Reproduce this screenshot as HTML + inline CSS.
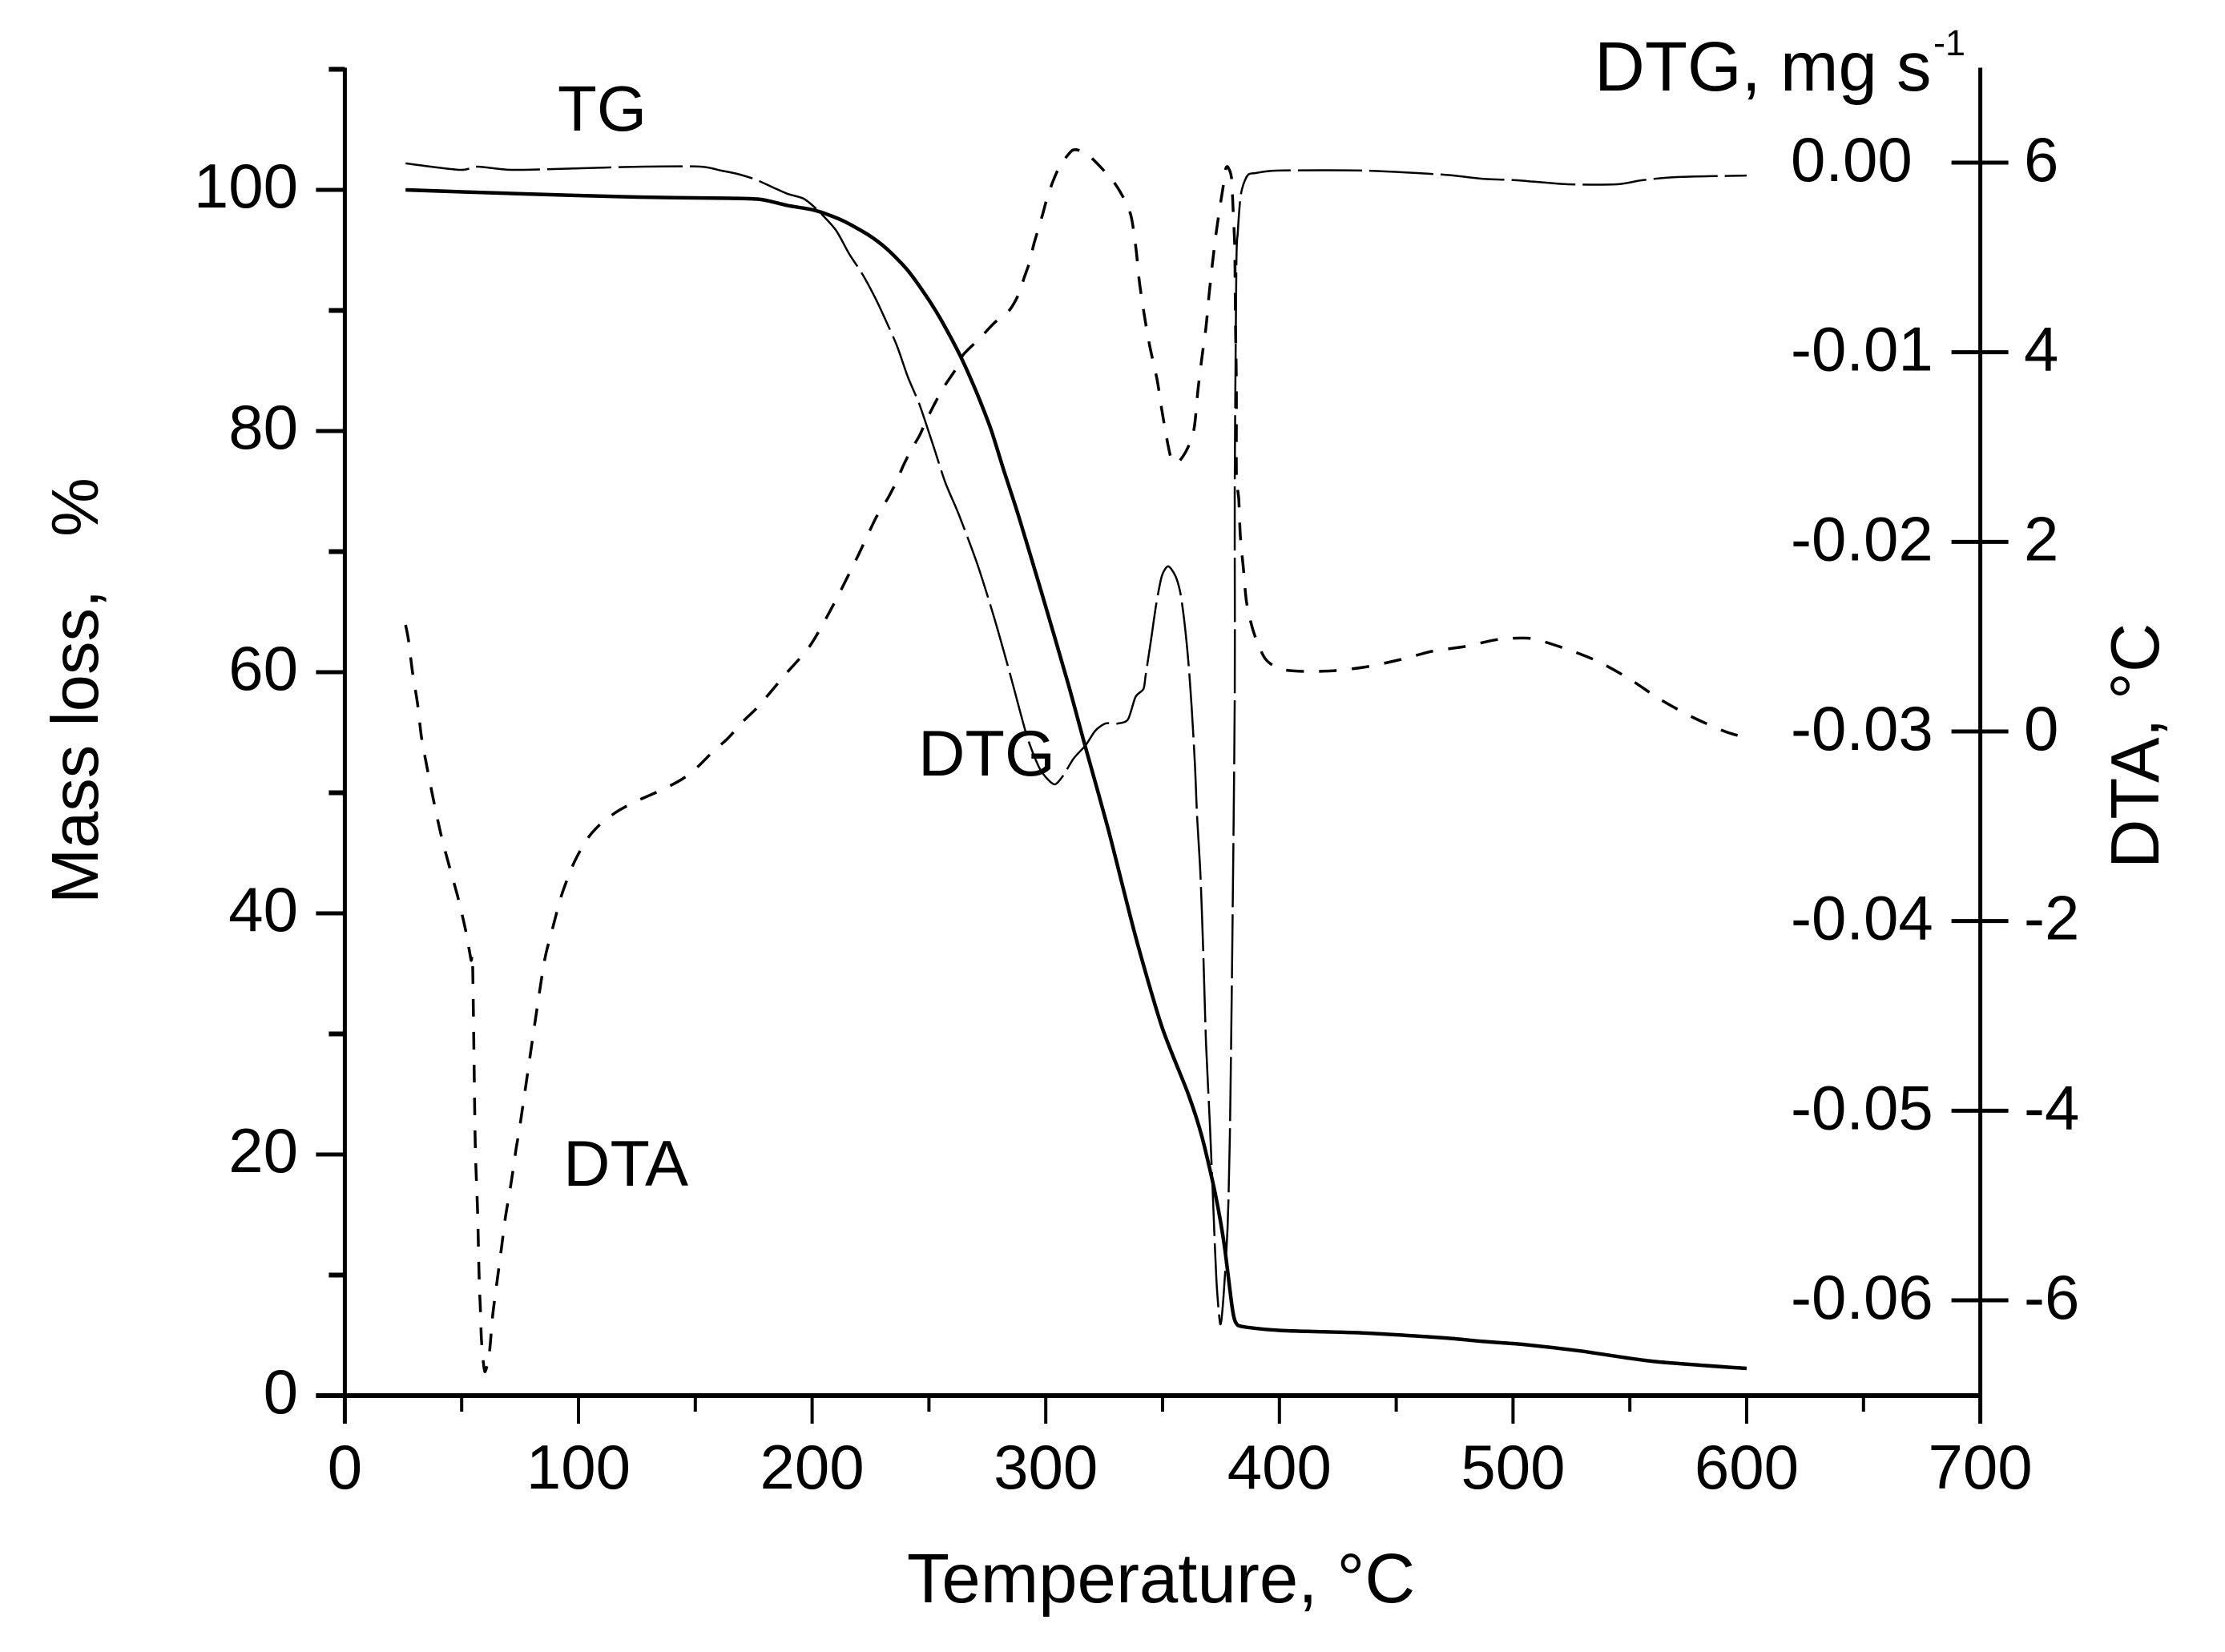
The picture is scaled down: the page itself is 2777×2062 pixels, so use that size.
<!DOCTYPE html>
<html lang="en">
<head>
<meta charset="utf-8">
<title>TG, DTG and DTA curves</title>
<style>
html,body{margin:0;padding:0;background:#fff;width:2777px;height:2062px;overflow:hidden}
svg{display:block}
text{font-family:"Liberation Sans",sans-serif;fill:#000}
</style>
</head>
<body>
<svg id="chart" xmlns="http://www.w3.org/2000/svg" width="2777" height="2062" viewBox="0 0 2777 2062">
  <rect x="0" y="0" width="2777" height="2062" fill="#fff"/>
  <g id="axes"></g>
  <g id="series"></g>
  <text x="1449" y="2000" font-size="87" text-anchor="middle">Temperature, °C</text>
  <text transform="translate(122,1128) rotate(-90)" font-size="83">Mass loss,</text>
  <text transform="translate(122,670) rotate(-90)" font-size="83">%</text>
  <text transform="translate(2694,1084) rotate(-90)" font-size="85">DTA, °C</text>
  <text x="1990" y="113" font-size="87">DTG, mg s</text>
  <text x="2413" y="69" font-size="45">-1</text>
  <text x="696" y="163" font-size="80">TG</text>
  <text x="1146" y="968" font-size="81">DTG</text>
  <text x="703" y="1480" font-size="81">DTA</text>
</svg>
<script>
const xMajorTicks = [0, 100, 200, 300, 400, 500, 600, 700];
const xMinorTicks = [50, 150, 250, 350, 450, 550, 650];
const massMajorTicks = [0, 20, 40, 60, 80, 100];
const massMinorTicks = [10, 30, 50, 70, 90, 110];
const dtgTicks = ['0.00', '-0.01', '-0.02', '-0.03', '-0.04', '-0.05', '-0.06'];
const dtaTicks = ['6', '4', '2', '0', '-2', '-4', '-6'];

const tgTemps = [26,71.2,125.7,165.2,178.2,189.6,201.2,212.5,223.8,232,241,250.2,257,264,270.8,276.6,282.1,288.6,298.2,309.5,316.4,326.7,338.4,349.7,361,366.8,372.6,376.4,379.8,381.5,385,401,435.4,469.7,486.8,504,529,559.6,600];
const tgMass = [100,99.7,99.4,99.3,99.2,98.7,98.3,97.5,96.3,95.1,93.3,90.8,88.6,86,83,80.1,76.7,72.8,66.6,59.1,54.2,47,38.1,30.6,25,21.5,16.7,12.5,7.3,6,5.7,5.4,5.2,4.8,4.5,4.25,3.7,2.85,2.25];

const dtgTemps = [26,49.2,56.8,71.2,99.7,127.8,152.1,161,167.9,175.8,182.6,189.6,196.4,202.2,210.1,215.9,221.7,227.2,232,236.5,240.9,245.7,249.2,252.6,257.1,262.9,270.8,277.6,284.5,289,292.4,297.2,300.6,304,307.5,311.9,317.1,321.2,325.6,330.8,335.2,338.4,341.8,342.8,345.2,347.3,349.7,352.4,355.5,357.6,359.3,361,362.4,363.8,364.8,366.2,367.5,368.6,370.3,371.6,373,374.7,376.1,377.8,378.8,379.8,380.9,380.9,381.6,382.2,383.3,384.6,386.7,389.8,399.4,435.4,469.7,486.8,501.6,523.2,544.5,555.1,570.2,600];
const dtgRate = [-0.00004,-0.00038,-0.00021,-0.00038,-0.0003,-0.00021,-0.00021,-0.00042,-0.00059,-0.00089,-0.00127,-0.00165,-0.0019,-0.00249,-0.00355,-0.00482,-0.00592,-0.00718,-0.00845,-0.00972,-0.01128,-0.01268,-0.01394,-0.01521,-0.0169,-0.01859,-0.02121,-0.02387,-0.02687,-0.02894,-0.03042,-0.0319,-0.03249,-0.03279,-0.03232,-0.03143,-0.03072,-0.02996,-0.02958,-0.02958,-0.02936,-0.02818,-0.02776,-0.027,-0.02505,-0.02328,-0.0218,-0.02129,-0.0218,-0.02269,-0.02417,-0.02628,-0.02865,-0.0316,-0.03456,-0.03752,-0.04195,-0.04643,-0.05087,-0.05471,-0.05885,-0.06126,-0.05978,-0.05619,-0.05129,-0.0417,-0.02797,-0.01677,-0.00537,-0.00368,-0.00186,-0.00114,-0.00063,-0.00055,-0.00042,-0.00042,-0.00063,-0.00085,-0.00093,-0.00114,-0.00114,-0.00093,-0.00076,-0.00068];

const dtaTemps = [26,27.3,29,31.1,32.8,35.2,37.9,41,44.4,48.2,51.6,54,54.7,55.8,56.8,57.5,58,58.5,59.9,61.9,63.3,65,67.1,68.8,71.2,73.3,75,78.7,82.2,85.6,89,92.8,97.9,103.8,109.6,116.5,124,130.2,137,144.6,151.1,157.6,163.8,170.6,177.2,188.5,199.1,209.1,219.4,227.2,232.4,235.8,238.9,242.3,246.1,248.5,252.6,256.4,261.2,264.6,271.5,278,284.5,288.6,290.7,293.1,294.8,296.8,298.9,300.6,303,306.1,311.2,314.7,318.1,324.6,329.8,334.2,336.7,338.7,340.1,342.1,344.5,347.6,349.7,352.1,353.8,356.2,359.3,362.4,363.8,365.1,366.8,368.6,369.9,371.3,373,375.1,376.1,377.1,378.1,379.5,380.2,380.9,381.2,381.6,381.6,382.6,383.3,384.6,386,389.1,393.9,400.4,411,424.1,438.1,452.2,465.2,479.3,494,507.7,521.8,535.9,549.6,563,576.7,590.7,600];
const dtaDelta = [1.124,0.955,0.617,0.296,-0.059,-0.38,-0.718,-1.073,-1.394,-1.732,-2.087,-2.409,-2.459,-4.327,-5.045,-5.789,-6.076,-6.431,-6.752,-6.541,-6.152,-5.831,-5.434,-5.113,-4.758,-4.403,-4.149,-3.524,-2.932,-2.4,-2.07,-1.724,-1.394,-1.132,-0.972,-0.845,-0.744,-0.676,-0.6,-0.499,-0.372,-0.211,-0.076,0.11,0.27,0.6,0.904,1.335,1.842,2.248,2.459,2.62,2.797,2.966,3.127,3.262,3.465,3.634,3.811,3.972,4.141,4.31,4.445,4.623,4.783,4.952,5.13,5.299,5.476,5.628,5.797,5.966,6.127,6.127,6.085,5.924,5.772,5.586,5.417,5.079,4.741,4.403,4.065,3.718,3.389,3.051,2.873,2.831,2.924,3.085,3.245,3.592,3.938,4.268,4.606,4.927,5.273,5.62,5.772,5.941,5.949,5.84,5.493,5.096,4.31,3.634,2.73,2.451,2.054,1.716,1.352,1.039,0.769,0.659,0.634,0.642,0.685,0.761,0.845,0.896,0.972,0.98,0.879,0.744,0.558,0.338,0.152,0,-0.068];

const NS = 'http://www.w3.org/2000/svg';
const axesGroup = document.getElementById('axes');
const seriesGroup = document.getElementById('series');

function xScale(t) { return 430.4 + t * 2.916; }
function yMass(m) { return 1742 - m * 15.05; }
function yDta(d) { return 913 - d * 118.33; }
function yDtg(r) { return 203 - r * 23667; }

function makeLine(x1, y1, x2, y2, width) {
  const el = document.createElementNS(NS, 'line');
  el.setAttribute('x1', x1);
  el.setAttribute('y1', y1);
  el.setAttribute('x2', x2);
  el.setAttribute('y2', y2);
  el.setAttribute('stroke', '#000');
  el.setAttribute('stroke-width', width);
  axesGroup.appendChild(el);
  return el;
}
function makeText(x, y, str, anchor) {
  const el = document.createElementNS(NS, 'text');
  el.setAttribute('x', x);
  el.setAttribute('y', y);
  el.setAttribute('font-size', '78');
  el.setAttribute('text-anchor', anchor);
  el.textContent = str;
  axesGroup.appendChild(el);
  return el;
}
function makeCurve(temps, values, yFn, width, dash) {
  const pts = temps.map(function (t, i) {
    return [xScale(t), yFn(values[i])];
  });
  const k = 0.13;
  let d = 'M' + pts[0][0].toFixed(1) + ' ' + pts[0][1].toFixed(1);
  for (let i = 0; i < pts.length - 1; i++) {
    const p0 = pts[Math.max(i - 1, 0)];
    const p1 = pts[i];
    const p2 = pts[i + 1];
    const p3 = pts[Math.min(i + 2, pts.length - 1)];
    const c1x = p1[0] + (p2[0] - p0[0]) * k;
    const c1y = p1[1] + (p2[1] - p0[1]) * k;
    const c2x = p2[0] - (p3[0] - p1[0]) * k;
    const c2y = p2[1] - (p3[1] - p1[1]) * k;
    d += 'C' + c1x.toFixed(1) + ' ' + c1y.toFixed(1) + ' ' + c2x.toFixed(1) + ' ' + c2y.toFixed(1) + ' ' + p2[0].toFixed(1) + ' ' + p2[1].toFixed(1);
  }
  const el = document.createElementNS(NS, 'path');
  el.setAttribute('d', d);
  el.setAttribute('fill', 'none');
  el.setAttribute('stroke', '#000');
  el.setAttribute('stroke-width', width);
  el.setAttribute('stroke-linejoin', 'round');
  if (dash) el.setAttribute('stroke-dasharray', dash);
  seriesGroup.appendChild(el);
  return el;
}

const axisTop = yMass(110) - 2;
const axisBase = yMass(0);

const leftAxis = makeLine(xScale(0), axisTop, xScale(0), axisBase + 35, 5);



const rightAxis = makeLine(xScale(700), axisTop, xScale(700), axisBase + 35, 5);



const bottomAxis = makeLine(xScale(0) - 36, axisBase, xScale(700), axisBase, 6);



xMajorTicks.forEach(function (v) {
  const tick = makeLine(xScale(v), axisBase, xScale(v), axisBase + 35, 4);
  
  
  const label = makeText(xScale(v), axisBase + 116, String(v), 'middle');
  
  
});
xMinorTicks.forEach(function (v) {
  const tick = makeLine(xScale(v), axisBase, xScale(v), axisBase + 20, 4);
  
  
});
massMajorTicks.forEach(function (v) {
  const tick = makeLine(xScale(0) - 36, yMass(v), xScale(0), yMass(v), 5);
  
  
  const label = makeText(372, yMass(v) + 22, String(v), 'end');
  
  
});
massMinorTicks.forEach(function (v) {
  const tick = makeLine(xScale(0) - 20, yMass(v), xScale(0), yMass(v), 6);
  
  
});
dtgTicks.forEach(function (s) {
  const label = makeText(2235, yDtg(parseFloat(s)) + 23, s, 'start');
  
  
});
dtaTicks.forEach(function (s) {
  const tick = makeLine(xScale(700) - 36, yDta(parseFloat(s)), xScale(700) + 35, yDta(parseFloat(s)), 5);
  
  
  const label = makeText(2526, yDta(parseFloat(s)) + 23, s, 'start');
  
  
});

const dtaCurve = makeCurve(dtaTemps, dtaDelta, yDta, 3.5, '22 19');



const dtgCurve = makeCurve(dtgTemps, dtgRate, yDtg, 2.5, '80 9');



const tgCurve = makeCurve(tgTemps, tgMass, yMass, 4.5, '');


</script>
</body>
</html>
